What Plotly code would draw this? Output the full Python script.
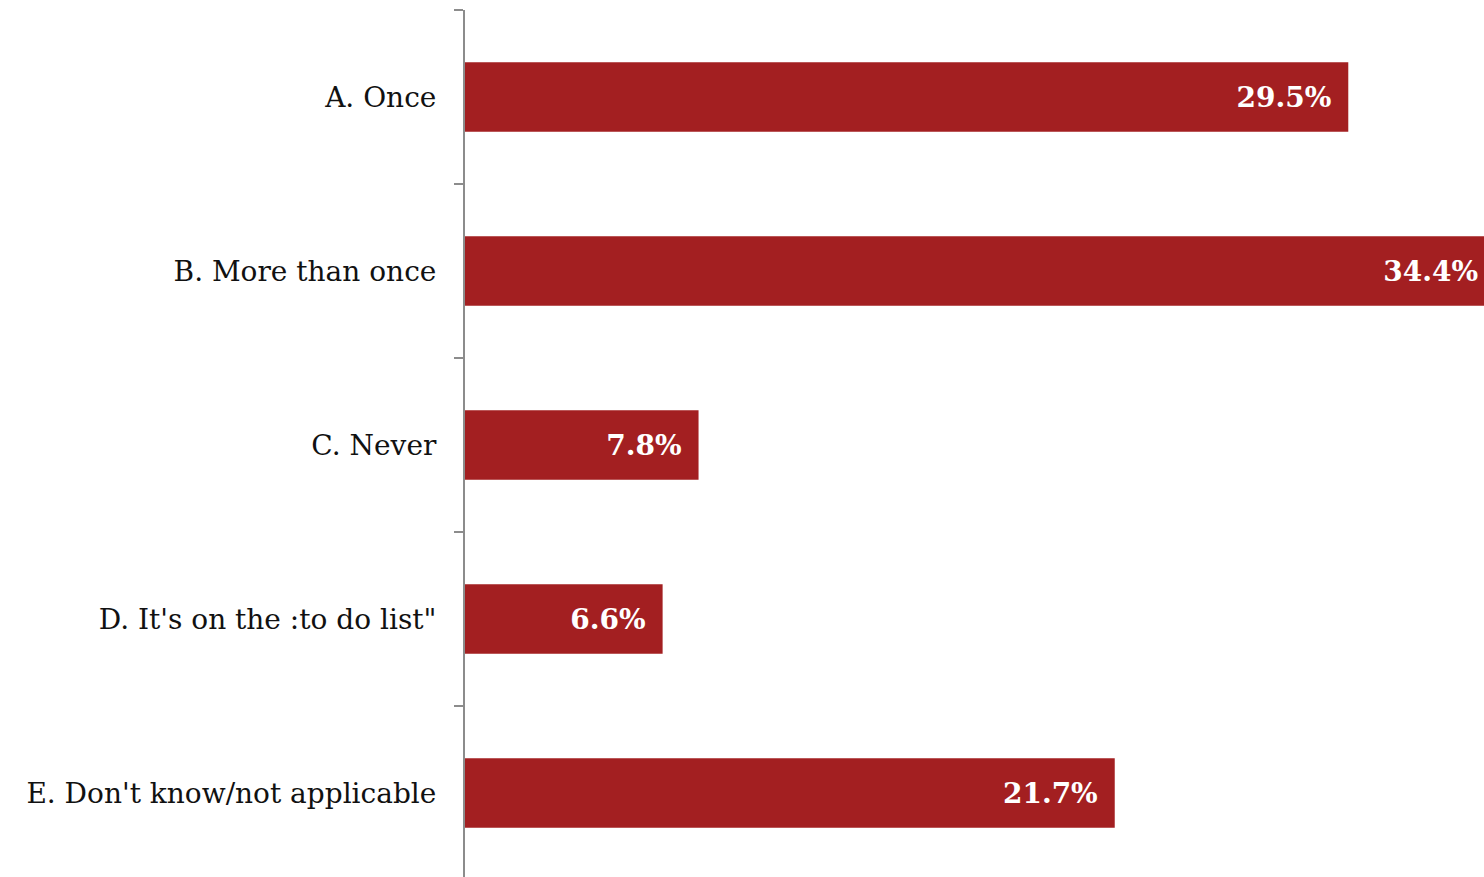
import plotly.graph_objects as go

categories = [
    "A. Once",
    "B. More than once",
    "C. Never",
    "D. It's on the :to do list\"",
    "E. Don't know/not applicable",
]
values = [29.5, 34.4, 7.8, 6.6, 21.7]

BAR_COLOR = "#A31F21"
FONT = "DejaVu Serif, Georgia, serif"

fig = go.Figure(
    go.Bar(
        x=values,
        y=categories,
        orientation="h",
        marker=dict(color=BAR_COLOR, line=dict(width=0)),
        texttemplate="<b>%{x:.1f}%</b>\u2002",
        textposition="inside",
        insidetextanchor="end",
        textfont=dict(family=FONT, size=28, color="white"),
        cliponaxis=False,
        hoverinfo="skip",
    )
)

fig.update_layout(
    width=1495,
    height=880,
    margin=dict(l=465, r=0, t=10, b=0),
    paper_bgcolor="white",
    plot_bgcolor="white",
    bargap=0.6,
    showlegend=False,
)

fig.update_xaxes(
    range=[0, 34.4],
    visible=False,
    showgrid=False,
    zeroline=False,
)

fig.update_yaxes(
    categoryorder="array",
    categoryarray=categories,
    autorange="reversed",
    showline=True,
    linecolor="#8c8c8c",
    linewidth=2,
    ticks="outside",
    tickson="boundaries",
    ticklen=9,
    tickwidth=2,
    tickcolor="#8c8c8c",
    ticklabelstandoff=21,
    tickfont=dict(family=FONT, size=28, color="#111111"),
    showgrid=False,
    zeroline=False,
)

fig.write_html(
    "out.html",
    post_script=(
        "document.documentElement.style.overflow='hidden';"
        "document.body.style.overflow='hidden';"
        "document.body.style.margin='0';"
    ),
)
